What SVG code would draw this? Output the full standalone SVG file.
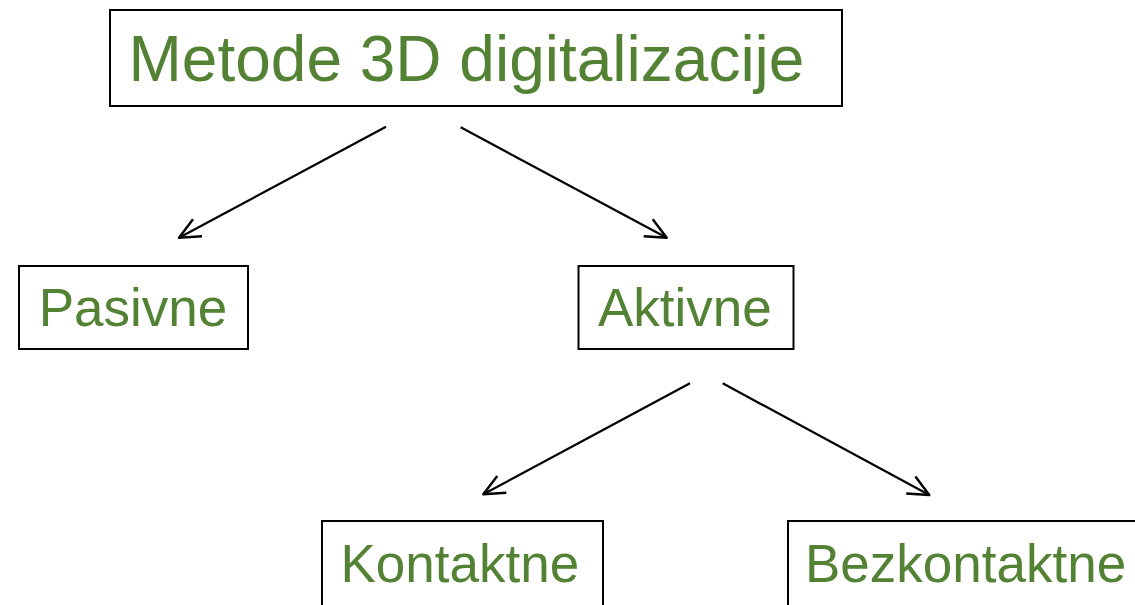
<svg xmlns="http://www.w3.org/2000/svg" width="1135" height="605" viewBox="0 0 1135 605">
  <style>
    .box { fill: #ffffff; stroke: #000000; stroke-width: 2; }
    .label { font-family: "Liberation Sans", Arial, sans-serif; fill: #548235; }
    .edge { fill: none; stroke: #000000; stroke-width: 2.2; marker-end: url(#open-arrow); }
  </style>
  <defs>
    <!-- open V arrowhead, drawn in user units -->
    <marker id="open-arrow" markerUnits="userSpaceOnUse" markerWidth="30" markerHeight="30" refX="0" refY="0" orient="auto" overflow="visible">
      <path d="M -21 -9.6 L 0 0 L -21 9.6" fill="none" stroke="#000000" stroke-width="2.4" stroke-linejoin="round" stroke-linecap="butt"/>
    </marker>
  </defs>
  <rect width="1135" height="605" fill="#ffffff"/>

  <g id="connectors">
    <line class="edge" x1="386" y1="126.7" x2="179" y2="237.7"/>
    <line class="edge" x1="460.7" y1="127.3" x2="666.7" y2="237.7"/>
    <line class="edge" x1="690" y1="383.3" x2="483.3" y2="494.3"/>
    <line class="edge" x1="722.7" y1="383.3" x2="929.3" y2="495"/>
  </g>

  <g id="node-metode">
    <rect class="box" x="110" y="10" width="732" height="96"/>
    <text class="label" x="128.5" y="81" font-size="64">Metode 3D digitalizacije</text>
  </g>

  <g id="node-pasivne">
    <rect class="box" x="19" y="266" width="229" height="83"/>
    <text class="label" x="38.7" y="326" font-size="53">Pasivne</text>
  </g>

  <g id="node-aktivne">
    <rect class="box" x="578.5" y="266" width="215" height="83"/>
    <text class="label" x="598" y="326" font-size="53">Aktivne</text>
  </g>

  <g id="node-kontaktne">
    <rect class="box" x="322" y="521" width="281" height="100"/>
    <text class="label" x="340.5" y="582" font-size="53">Kontaktne</text>
  </g>

  <g id="node-bezkontaktne">
    <rect class="box" x="788" y="521" width="360" height="100"/>
    <text class="label" x="805" y="582" font-size="53">Bezkontaktne</text>
  </g>
</svg>
